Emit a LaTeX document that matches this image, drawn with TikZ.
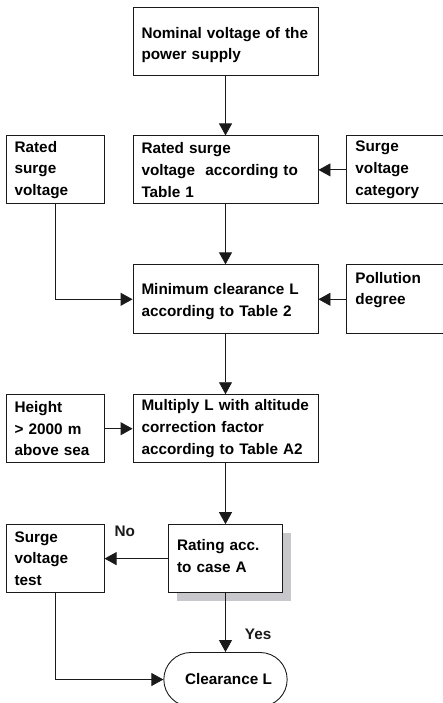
\documentclass[tikz,border=0pt]{standalone}
\usepackage{fontspec}
\setmainfont{Liberation Sans}
\usepackage{tikz}
\usetikzlibrary{arrows.meta,positioning,shapes.misc,shadows}
\definecolor{shadowgray}{HTML}{C8C8CC}
\definecolor{ink}{HTML}{1A1A1A}
\newcommand{\flowfont}{\fontsize{15.3}{21.7}\selectfont\bfseries}
\tikzset{
  stepbox/.style={
    rectangle, draw=ink, fill=white, line width=0.9pt,
    text width=#1, inner xsep=8.5pt, inner ysep=3pt,
    minimum height=68pt,
    font=\flowfont, align=left
  },
  stepbox/.default=168pt,
  termbox/.style={rounded rectangle, draw=ink, line width=0.9pt,
    minimum width=130pt, minimum height=54pt, font=\flowfont},
  flowarrow/.style={
    -{Triangle[length=12pt,width=13pt]}, line width=0.9pt, color=ink
  },
  answer/.style={font=\flowfont, inner sep=0pt, text depth=0pt},
}
\begin{document}
\begin{tikzpicture}[x=1pt, y=1pt, node distance=60pt and 28pt]
  \useasboundingbox (0,0) rectangle (443,-703);
  % main column
  \node[stepbox, text height=19pt] (nominal) at (225.5,-41) {Nominal voltage of the\\power supply};
  \node[stepbox, below=of nominal] (rated) {Rated surge\\voltage~ according to\\Table 1};
  \node[stepbox, below=of rated, minimum height=69pt, text height=16pt] (minclear) {Minimum clearance L\\according to Table 2};
  \node[stepbox, below=of minclear] (multiply) {Multiply L with altitude\\correction factor\\according to Table A2};
  \node[stepbox=97pt, below=61pt of multiply, text depth=27pt,
    general shadow={fill=shadowgray, shadow xshift=8pt, shadow yshift=-8pt}] (rating) {Rating acc.\\to case A};
  \node[termbox, below=59pt of rating] (clear) {\hspace{6pt}Clearance L};
  % side inputs
  \node[stepbox=81pt, left=of rated] (ratedin) {Rated\\surge\\voltage};
  \node[stepbox=81pt, right=of rated] (category) {Surge\\voltage\\category};
  \node[stepbox=81pt, right=of minclear, minimum height=69pt] (pollution) {Pollution\\degree\\\mbox{}};
  \node[stepbox=81pt, left=of multiply] (height) {Height\\> 2000 m\\above sea};
  \node[stepbox=81pt, below=61pt of height] (test) {Surge\\voltage\\test};
  % connectors
  \draw[flowarrow] (nominal.south) -- (rated.north);
  \draw[flowarrow] (category.west) -- (rated.east);
  \draw[flowarrow] (rated.south) -- (minclear.north);
  \draw[flowarrow] (ratedin.south) |- (minclear.west);
  \draw[flowarrow] (pollution.west) -- (minclear.east);
  \draw[flowarrow] (minclear.south) -- (multiply.north);
  \draw[flowarrow] (height.east) -- (multiply.west);
  \draw[flowarrow] (multiply.south) -- (rating.north);
  \draw[flowarrow] (rating.west) -- node[answer, pos=0.68, above=22pt] (no) {No} (test.east);
  \draw[flowarrow] (rating.south) -- node[answer, pos=0.70, right=19pt] (yes) {Yes} (clear.north);
  \draw[flowarrow] (test.south) |- (clear.west);
\end{tikzpicture}
\end{document}
